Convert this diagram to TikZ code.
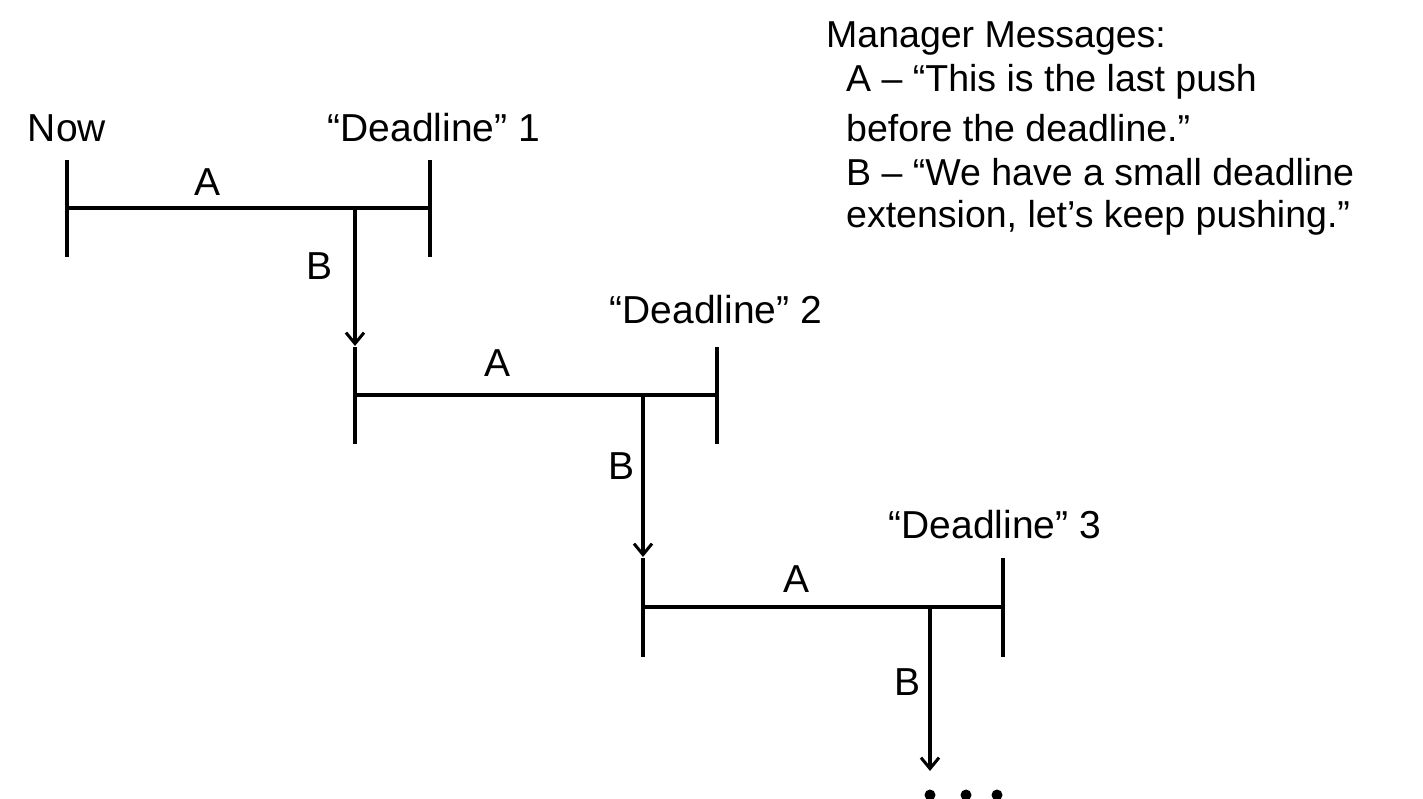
\documentclass[tikz,border=0pt]{standalone}
\usepackage{fontspec}
\setmainfont{Liberation Sans}
\usetikzlibrary{arrows.meta}
\begin{document}
\begin{tikzpicture}[x=1pt,y=-1pt,
  ln/.style={line width=3.5pt},
  arr/.style={line width=3.5pt,-{Straight Barb[length=11pt,width=18pt,line width=3pt]}},
  lbl/.style={font=\fontsize{39}{45}\selectfont,inner sep=0pt},
  msg/.style={font=\fontsize{37.5}{45}\selectfont,inner sep=0pt,anchor=west}]
\useasboundingbox (0,0) rectangle (1423,799);
% segment 1
\coordinate (s1a) at (67,160); \coordinate (s1b) at (67,257);
\coordinate (e1a) at (430,160); \coordinate (e1b) at (430,257);
\coordinate (h1l) at (67,208); \coordinate (h1r) at (430,208);
\coordinate (d1) at (355,208); \coordinate (d1e) at (355,346);
\draw[ln] (s1a)--(s1b); \draw[ln] (e1a)--(e1b); \draw[ln] (h1l)--(h1r);
\draw[arr] (d1)--(d1e);
\node[lbl] (now) at (67,128) {Now};
\node[lbl] (dl1) at (434,128) {“Deadline” 1};
\node[lbl] (a1) at (208,182) {A};
\node[lbl] (b1) at (320,266) {B};
% segment 2
\coordinate (s2a) at (355,347); \coordinate (s2b) at (355,444);
\coordinate (e2a) at (717,347); \coordinate (e2b) at (717,444);
\coordinate (h2l) at (355,395); \coordinate (h2r) at (717,395);
\coordinate (d2) at (643,395); \coordinate (d2e) at (643,557);
\draw[ln] (s2a)--(s2b); \draw[ln] (e2a)--(e2b); \draw[ln] (h2l)--(h2r);
\draw[arr] (d2)--(d2e);
\node[lbl] (dl2) at (716,310) {“Deadline” 2};
\node[lbl] (a2) at (497,363) {A};
\node[lbl] (b2) at (621,466) {B};
% segment 3
\coordinate (s3a) at (643,558); \coordinate (s3b) at (643,657);
\coordinate (e3a) at (1003,558); \coordinate (e3b) at (1003,657);
\coordinate (h3l) at (643,607); \coordinate (h3r) at (1003,607);
\coordinate (d3) at (930,607); \coordinate (d3e) at (930,771);
\draw[ln] (s3a)--(s3b); \draw[ln] (e3a)--(e3b); \draw[ln] (h3l)--(h3r);
\draw[arr] (d3)--(d3e);
\node[lbl] (dl3) at (995,525) {“Deadline” 3};
\node[lbl] (a3) at (796,579) {A};
\node[lbl] (b3) at (907,682) {B};
\foreach \x/\n in {930/p1,966/p2,997/p3} \fill (\x,795) circle (5.5pt);
% messages
\node[msg] (m0) at (826,38) {Manager Messages:};
\node[msg] (m1) at (846,82) {A – “This is the last push};
\node[msg] (m2) at (846,128) {before the deadline.”};
\node[msg] (m3) at (846,172) {B – “We have a small deadline};
\node[msg] (m4) at (846,218) {extension, let’s keep pushing.”};
\end{tikzpicture}
\end{document}
